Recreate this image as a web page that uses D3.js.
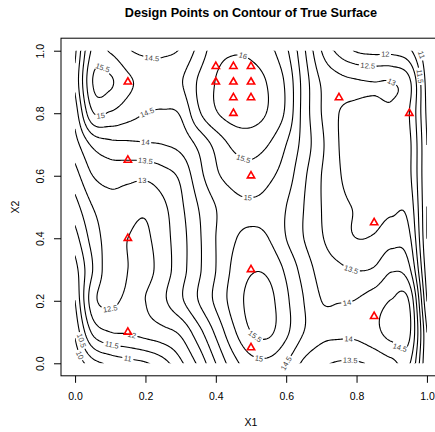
<!DOCTYPE html>
<html>
<head>
  <meta charset="utf-8">
  <title>Design Points on Contour of True Surface</title>
  <script src="https://d3js.org/d3.v7.min.js"></script>
  <style>
    body { margin: 0; background: #fff; }
    text { font-family: "Liberation Sans", Arial, Helvetica, sans-serif; }
    .contour { fill: none; stroke: #000; stroke-width: 1.1; }
    .clabel { font-size: 7.5px; fill: #444; }
    .axis text { font-size: 10.5px; fill: #000; }
    .axis line, .axis path { stroke: #000; }
  </style>
</head>
<body>
<svg id="chart" width="435" height="432"></svg>
<script>
// surface values
// rows: X2 = 1.0 (top) down to 0.0, columns: X1 = 0, 0.05, ..., 1
var surface = [
  [13.4, 15.1, 14.95, 14.55, 14.4, 14.42, 14.55, 15.15, 15.8, 15.95, 15.9, 15.65, 15.1, 14.1, 13.0, 12.35, 11.95, 11.85, 11.85, 11.6, 10.6],
  [13.6, 15.5, 15.56, 15.1, 14.85, 14.75, 14.95, 15.55, 16.02, 16.25, 16.2, 15.95, 15.4, 14.3, 13.45, 13.15, 13.05, 13.0, 13.0, 12.6, 10.8],
  [13.2, 14.95, 14.95, 14.7, 14.5, 14.45, 14.55, 15.4, 15.95, 16.2, 16.2, 15.95, 15.4, 14.3, 13.5, 13.0, 12.85, 12.8, 12.9, 12.5, 10.9],
  [12.8, 13.6, 13.85, 13.9, 13.95, 14.0, 14.15, 14.6, 15.15, 15.6, 15.7, 15.5, 15.0, 14.3, 13.6, 13.0, 12.75, 12.7, 12.8, 12.6, 11.0],
  [12.3, 13.0, 13.2, 13.15, 13.1, 13.3, 13.6, 14.3, 14.9, 15.2, 15.3, 15.1, 14.75, 14.1, 13.5, 13.05, 12.7, 12.6, 12.7, 12.6, 11.0],
  [11.8, 12.5, 12.8, 12.7, 12.6, 12.9, 13.4, 14.0, 14.5, 14.85, 14.93, 14.85, 14.5, 14.0, 13.5, 13.15, 12.95, 12.8, 12.9, 12.8, 11.0],
  [11.3, 12.2, 12.7, 12.5, 12.42, 12.8, 13.3, 13.9, 14.5, 14.95, 15.1, 15.0, 14.5, 14.0, 13.55, 13.2, 13.0, 13.05, 13.3, 13.1, 11.0],
  [10.8, 12.0, 12.75, 12.5, 12.35, 12.75, 13.3, 13.9, 14.5, 15.1, 15.45, 15.4, 14.9, 14.3, 13.8, 13.6, 13.48, 13.55, 13.95, 13.6, 11.2],
  [10.5, 12.3, 12.6, 12.4, 12.5, 12.9, 13.4, 14.0, 14.6, 15.2, 15.65, 15.65, 15.1, 14.5, 14.0, 13.98, 14.02, 14.25, 14.52, 14.45, 11.5],
  [10.1, 11.6, 12.0, 12.05, 12.2, 12.35, 12.6, 13.3, 14.1, 14.9, 15.5, 15.6, 15.1, 14.5, 14.15, 14.1, 14.12, 14.35, 14.68, 14.6, 12.0],
  [9.6, 10.3, 10.6, 10.8, 10.95, 11.3, 11.9, 12.6, 13.5, 14.3, 14.8, 14.85, 14.5, 13.9, 13.6, 13.45, 13.45, 13.6, 13.85, 14.05, 12.0]
];

var levels = d3.range(10, 16.01, 0.5);

// design points
var designX1 = [0.15, 0.15, 0.15, 0.15, 0.4, 0.45, 0.5, 0.4, 0.45, 0.5, 0.45, 0.5, 0.45, 0.5, 0.5, 0.5, 0.75, 0.95, 0.85, 0.85];
var designX2 = [0.9, 0.65, 0.4, 0.1, 0.95, 0.95, 0.95, 0.9, 0.9, 0.9, 0.85, 0.85, 0.8, 0.6, 0.3, 0.05, 0.85, 0.8, 0.45, 0.15];

// where the contour labels sit
var labelLevel = [15.5, 15, 14.5, 14.5, 14, 13.5, 13, 16, 15.5, 15, 12, 12.5, 13, 11, 11.5, 13.5, 14, 14, 14.5, 13.5, 15.5, 15, 14.5, 12.5, 12, 11.5, 11, 10.5, 10];
var labelX1 = [0.078, 0.076, 0.22, 0.21, 0.2, 0.2, 0.19, 0.47, 0.48, 0.49, 0.88, 0.83, 0.895, 0.975, 0.985, 0.78, 0.776, 0.776, 0.92, 0.78, 0.516, 0.525, 0.587, 0.1, 0.16, 0.1, 0.15, 0.01, 0.0];
var labelX2 = [0.945, 0.78, 0.98, 0.79, 0.72, 0.65, 0.58, 0.955, 0.66, 0.51, 0.99, 0.95, 0.89, 0.985, 0.92, 0.29, 0.18, 0.078, 0.045, 0.013, 0.094, 0.033, 0.01, 0.17, 0.08, 0.04, 0.01, 0.07, 0.02];

var xTicks = [0, 0.2, 0.4, 0.6, 0.8, 1.0];
var yTicks = [0, 0.2, 0.4, 0.6, 0.8, 1.0];

var svg = d3.select("#chart");

var x = d3.scaleLinear().domain([-0.04, 1.04]).range([61, 441]);
var y = d3.scaleLinear().domain([-0.04, 1.04]).range([375.8, 38.2]);

// smooth the read grid for drawing (Catmull-Rom)
var rows = surface.length, cols = surface[0].length;
function at(r, c) {
  if (c < 0) return 2 * at(r, 0) - at(r, 1);
  if (c > cols - 1) return 2 * at(r, cols - 1) - at(r, cols - 2);
  if (r < 0) return 2 * at(0, c) - at(1, c);
  if (r > rows - 1) return 2 * at(rows - 1, c) - at(rows - 2, c);
  return surface[r][c];
}
function cr(p0, p1, p2, p3, t) {
  return p1 + 0.5 * t * (p2 - p0 + t * (2 * p0 - 5 * p1 + 4 * p2 - p3 + t * (3 * (p1 - p2) + p3 - p0)));
}
function surfaceAt(u, v) {
  var gc = u * (cols - 1), gr = (1 - v) * (rows - 1);
  var c = Math.min(cols - 2, Math.floor(gc)), r = Math.min(rows - 2, Math.floor(gr));
  var tc = gc - c, tr = gr - r;
  var rv = [-1, 0, 1, 2].map(function (k) {
    return cr(at(r + k, c - 1), at(r + k, c), at(r + k, c + 1), at(r + k, c + 2), tc);
  });
  return cr(rv[0], rv[1], rv[2], rv[3], tr);
}

var nx = 221, ny = 221;
var values = new Array(nx * ny);
for (var j = 0; j < ny; j++) {
  for (var i = 0; i < nx; i++) {
    values[j * nx + i] = surfaceAt(i / (nx - 1), j / (ny - 1));
  }
}

var contours = d3.contours().size([nx, ny]).thresholds(levels)(values);

// turn rings into open / closed polylines, dropping the parts on the grid border
function toPix(c) {
  var p = [x((c[0] - 0.5) / (nx - 1)), y((c[1] - 0.5) / (ny - 1))];
  p.out = c[0] <= 0 || c[0] >= nx || c[1] <= 0 || c[1] >= ny;
  return p;
}
function ringToLines(ring) {
  var pts = ring.map(toPix);
  var f = pts[0], l = pts[pts.length - 1];
  if (f[0] === l[0] && f[1] === l[1]) pts.pop();
  var n = pts.length;
  var brk = -1;
  for (var i = 0; i < n; i++) {
    if (pts[i].out && pts[(i + 1) % n].out) { brk = i; break; }
  }
  if (brk < 0) return [{ pts: pts.concat([pts[0]]), closed: true }];
  var out = [], cur = [];
  var s = (brk + 1) % n;
  for (var k = 0; k < n; k++) {
    var a = (s + k) % n, b = (a + 1) % n;
    cur.push(pts[a]);
    if (pts[a].out && pts[b].out) {
      if (cur.length > 1) out.push({ pts: cur, closed: false });
      cur = [];
    }
  }
  if (cur.length > 1) out.push({ pts: cur, closed: false });
  return out;
}

var lines = {};
contours.forEach(function (c) {
  var list = [];
  c.coordinates.forEach(function (poly) {
    poly.forEach(function (ring) { list = list.concat(ringToLines(ring)); });
  });
  lines[c.value] = list;
});

function dist(a, b) { return Math.hypot(a[0] - b[0], a[1] - b[1]); }
function fmt(v) { return v % 1 === 0 ? String(v) : v.toFixed(1); }

// cut a gap in the line for each label
var labels = [];
labelLevel.forEach(function (lev, li) {
  var list = lines[lev];
  if (!list) return;
  var target = [x(labelX1[li]), y(labelX2[li])];
  var best = null, bd = Infinity;
  list.forEach(function (ln, lk) {
    ln.pts.forEach(function (p, pk) {
      var d = dist(p, target);
      if (d < bd) { bd = d; best = [lk, pk]; }
    });
  });
  if (!best || bd > 30) return;
  var ln = list[best[0]], p = ln.pts, idx = best[1];
  if (ln.closed) {
    var n = p.length - 1;
    var start = (idx + Math.floor(n / 2)) % n;
    p = p.slice(start, n).concat(p.slice(0, start + 1));
    idx = (idx - start + n) % n;
  }
  var cum = [0];
  for (var q = 1; q < p.length; q++) cum.push(cum[q - 1] + dist(p[q - 1], p[q]));
  var total = cum[cum.length - 1];
  function pointAt(sv) {
    sv = Math.max(0, Math.min(total, sv));
    for (var q = 1; q < p.length; q++) {
      if (cum[q] >= sv) {
        var t = (sv - cum[q - 1]) / ((cum[q] - cum[q - 1]) || 1);
        return [p[q - 1][0] + t * (p[q][0] - p[q - 1][0]), p[q - 1][1] + t * (p[q][1] - p[q - 1][1])];
      }
    }
    return p[p.length - 1];
  }
  var txt = fmt(lev);
  var w = 7.5 * (txt.replace(".", "").length * 0.556 + (txt.indexOf(".") >= 0 ? 0.278 : 0));
  var half = w / 2 + 1.5;
  var s0 = cum[idx], a = s0 - half, b = s0 + half;
  var left = [], right = [];
  for (q = 0; q < p.length; q++) if (cum[q] < a) left.push(p[q]);
  if (a > 0) left.push(pointAt(a));
  if (b < total) right.push(pointAt(b));
  for (q = 0; q < p.length; q++) if (cum[q] > b) right.push(p[q]);
  var pa = pointAt(a), pb = pointAt(b);
  var ang = Math.atan2(pb[1] - pa[1], pb[0] - pa[0]) * 180 / Math.PI;
  if (ang > 90) ang -= 180;
  if (ang <= -90) ang += 180;
  var parts = [left, right].filter(function (s) { return s.length > 1; })
    .map(function (s) { return { pts: s, closed: false }; });
  list.splice.apply(list, [best[0], 1].concat(parts));
  var c = pointAt(s0);
  labels.push({ text: txt, x: c[0], y: c[1], angle: ang });
});

// clip to the data region
svg.append("clipPath").attr("id", "dataClip")
  .append("rect")
  .attr("x", x(0)).attr("y", y(1))
  .attr("width", x(1) - x(0)).attr("height", y(0) - y(1));

var plot = svg.append("g").attr("clip-path", "url(#dataClip)");
var line = d3.line();
levels.forEach(function (lev) {
  (lines[lev] || []).forEach(function (ln) {
    plot.append("path")
      .attr("class", "contour")
      .attr("d", line(ln.pts) + (ln.closed ? "Z" : ""));
  });
});

svg.append("g").selectAll("text")
  .data(labels)
  .enter().append("text")
  .attr("class", "clabel")
  .attr("text-anchor", "middle")
  .attr("dy", "0.35em")
  .attr("transform", function (d) { return "translate(" + d.x + "," + d.y + ") rotate(" + d.angle + ")"; })
  .text(function (d) { return d.text; });

// design points
var tri = d3.symbol().type(d3.symbolTriangle).size(23);
svg.append("g").selectAll("path")
  .data(designX1)
  .enter().append("path")
  .attr("d", tri)
  .attr("transform", function (d, i) { return "translate(" + x(d) + "," + y(designX2[i]) + ")"; })
  .attr("fill", "none")
  .attr("stroke", "#ff0000")
  .attr("stroke-width", 1.6);

// box and axes
svg.append("rect")
  .attr("x", 61).attr("y", 38.2)
  .attr("width", 380).attr("height", 337.6)
  .attr("fill", "none").attr("stroke", "#000");

var fmtTick = d3.format(".1f");
svg.append("g")
  .attr("class", "axis")
  .attr("transform", "translate(0,375.8)")
  .call(d3.axisBottom(x).tickValues(xTicks).tickFormat(fmtTick).tickSize(7).tickSizeOuter(0).tickPadding(10))
  .call(function (g) { g.select(".domain").remove(); });

var yAxis = svg.append("g")
  .attr("class", "axis")
  .attr("transform", "translate(61,0)")
  .call(d3.axisLeft(y).tickValues(yTicks).tickFormat(fmtTick).tickSize(7).tickSizeOuter(0))
  .call(function (g) { g.select(".domain").remove(); });
yAxis.selectAll("text")
  .attr("x", 0).attr("y", -17.2).attr("dy", 0)
  .attr("text-anchor", "middle")
  .attr("transform", "rotate(-90)");

svg.append("text")
  .attr("x", 251).attr("y", 17.3)
  .attr("text-anchor", "middle")
  .style("font-size", "12.7px").style("font-weight", "bold")
  .text("Design Points on Contour of True Surface");

svg.append("text")
  .attr("x", 251).attr("y", 425.5)
  .attr("text-anchor", "middle")
  .style("font-size", "10.5px")
  .text("X1");

svg.append("text")
  .attr("transform", "translate(18.8,207) rotate(-90)")
  .attr("text-anchor", "middle")
  .style("font-size", "10.5px")
  .text("X2");
</script>
</body>
</html>
